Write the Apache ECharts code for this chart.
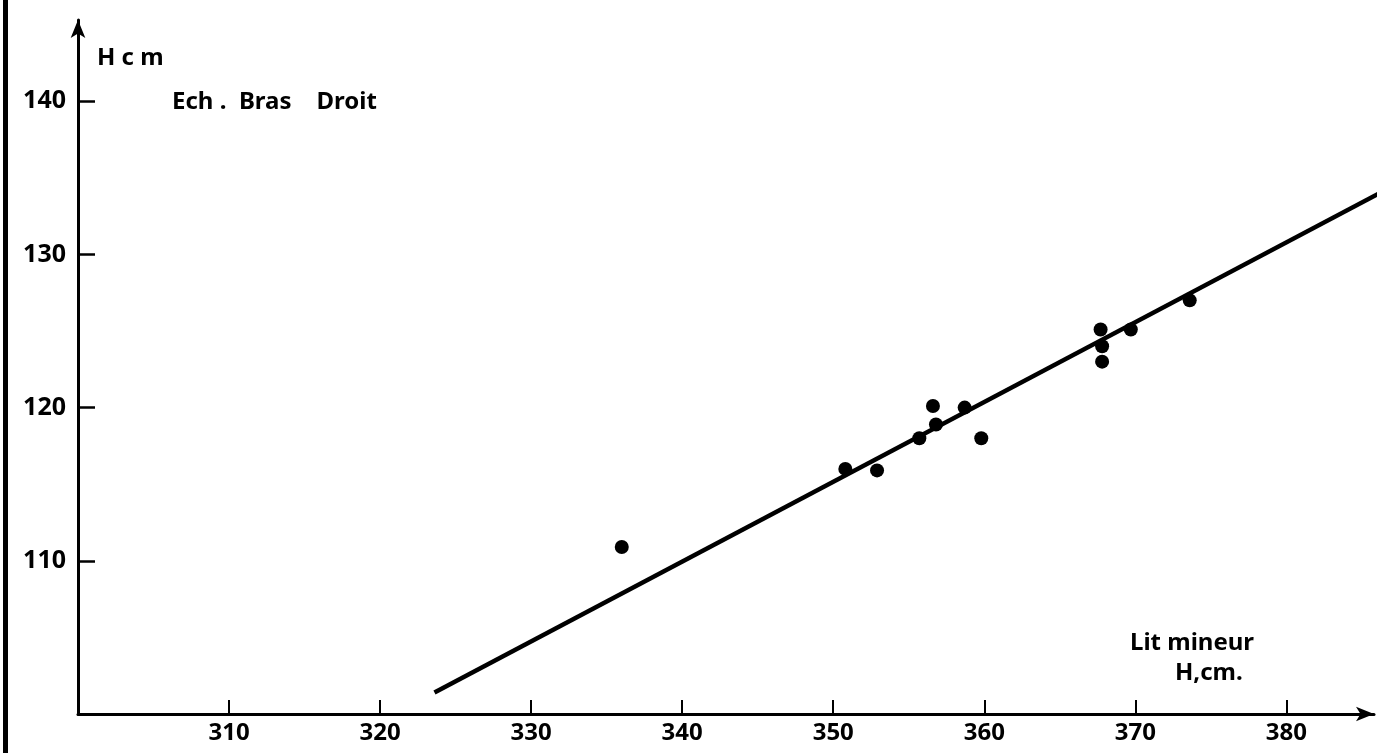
<!DOCTYPE html>
<html>
<head>
<meta charset="utf-8">
<script src="https://cdn.jsdelivr.net/npm/echarts@6/dist/echarts.min.js"></script>
<style>
html,body{margin:0;padding:0;background:#fff;}
#chart{width:1391px;height:753px;}
</style>
</head>
<body>
<div id="chart"></div>
<script>
// Data
const xTickValues = [310, 320, 330, 340, 350, 360, 370, 380];
const yTickValues = [110, 120, 130, 140];
const litMineur = [336, 350.8, 352.9, 355.7, 356.6, 356.8, 358.7, 359.8, 367.7, 367.8, 367.8, 369.7, 373.6];
const brasDroit = [110.9, 116.0, 115.9, 118.0, 120.1, 118.9, 120.0, 118.0, 125.1, 124.0, 123.0, 125.1, 127.0];
const fitX = [323.6, 390];
const fitY = [101.4, 136.0];

const points = litMineur.map((x, i) => [x, brasDroit[i]]);
const fitLine = fitX.map((x, i) => [x, fitY[i]]);

const chart = echarts.init(document.getElementById('chart'), null, {renderer: 'canvas'});
const font = '"Noto Sans", "DejaVu Sans", sans-serif';
const txt = (size) => 'bold ' + size + 'px "Noto Sans", "DejaVu Sans", sans-serif';
chart.setOption({
  backgroundColor: '#ffffff',
  animation: false,
  grid: {left: 78, right: 17, top: 20, bottom: 39},
  xAxis: {
    type: 'value', min: 300, max: 385.8,
    splitLine: {show: false},
    axisLine: {show: true, symbol: ['none', 'arrow'], symbolSize: [11, 18], lineStyle: {color: '#000', width: 3}},
    axisTick: {show: true, inside: true, length: 14, customValues: xTickValues, lineStyle: {color: '#000', width: 2}},
    axisLabel: {show: true, customValues: xTickValues, margin: 7, color: '#000', fontFamily: font, fontWeight: 'bold', fontSize: 24}
  },
  yAxis: {
    type: 'value', min: 100, max: 145.3,
    splitLine: {show: false},
    axisLine: {show: true, symbol: ['none', 'arrow'], symbolSize: [11, 18], lineStyle: {color: '#000', width: 3}},
    axisTick: {show: true, inside: true, length: 17, customValues: yTickValues, lineStyle: {color: '#000', width: 2.5}},
    axisLabel: {show: true, customValues: yTickValues, margin: 12, color: '#000', fontFamily: font, fontWeight: 'bold', fontSize: 25}
  },
  series: [
    {
      type: 'line', data: fitLine, clip: false, symbol: 'none',
      lineStyle: {color: '#000', width: 4.5}
    },
    {
      type: 'scatter', data: points, symbol: 'circle', symbolSize: 14,
      itemStyle: {color: '#000', opacity: 1}
    }
  ],
  graphic: [
    {type: 'rect', left: 3, top: 0, shape: {width: 5, height: 753}, style: {fill: '#000'}},
    {type: 'text', x: 97, y: 58, style: {text: 'H c m', font: txt(24), fill: '#000', verticalAlign: 'middle'}},
    {type: 'text', x: 172, y: 102, style: {text: 'Ech .  Bras    Droit', font: txt(24), fill: '#000', verticalAlign: 'middle'}},
    {type: 'text', x: 1130, y: 643, style: {text: 'Lit mineur', font: txt(24), fill: '#000', verticalAlign: 'middle'}},
    {type: 'text', x: 1175, y: 673, style: {text: 'H,cm.', font: txt(24), fill: '#000', verticalAlign: 'middle'}}
  ]
});
</script>
</body>
</html>
